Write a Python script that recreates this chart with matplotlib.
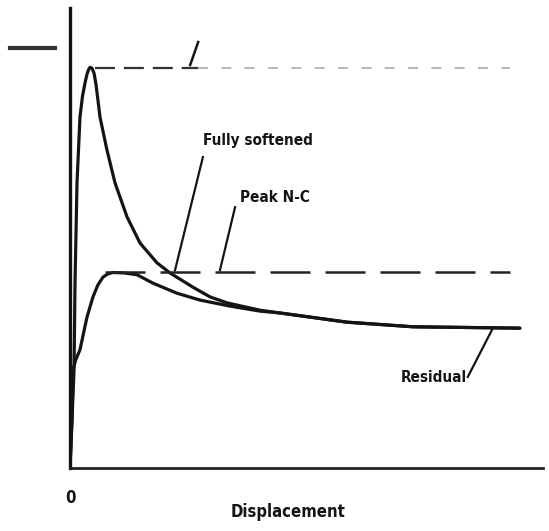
import matplotlib
matplotlib.use("Agg")
import matplotlib.pyplot as plt
from matplotlib.lines import Line2D

# ---- data (displacement units 0-100, load units 0-100) ----
peak_x = [0, 0.42, 0.85, 1.06, 1.48, 2.11, 2.64, 3.17, 3.59, 3.92, 4.23, 4.65,
          5.07, 5.5, 6.34, 7.82, 9.51, 12.05, 14.8, 18.39, 21.14, 26.0, 29.6,
          33.2, 40.2, 44.4, 58.6, 72.5, 95.1]
peak_y = [0, 10.4, 21.3, 40.2, 62.0, 76.3, 80.8, 83.7, 85.6, 86.6, 87.1, 86.9,
          85.9, 83.4, 76.3, 69.1, 62.0, 54.6, 48.9, 44.6, 42.4, 39.3, 37.2,
          35.9, 34.3, 33.7, 31.7, 30.7, 30.4]

nc_x = [0, 0.42, 0.63, 1.2, 2.11, 2.9, 3.59, 4.86, 5.9, 6.98, 8.0, 9.09, 11.5,
        14.2, 17.5, 22.6, 27.5, 33.8, 40.2, 44.4, 58.6, 72.5, 95.1]
nc_y = [0, 10.4, 21.3, 23.5, 25.7, 29.5, 32.8, 37.2, 39.8, 41.5, 42.2, 42.5, 42.4,
        42.0, 40.2, 38.0, 36.5, 35.2, 34.1, 33.7, 31.7, 30.7, 30.4]

peak_level = 87.0
peak_nc_level = 42.6
dash_start = 5.3
dash_end = 93.0

labels = {"fully": "Fully softened", "peaknc": "Peak N-C", "residual": "Residual"}
x_label = "Displacement"
origin_label = "0"

# ---- figure ----
W, H = 549, 531
fig = plt.figure(figsize=(W / 100, H / 100), dpi=100)
fig.patch.set_facecolor("white")
ax = fig.add_axes([70 / W, (H - 468) / H, (543 - 70) / W, (468 - 8) / H])
ax.set_xlim(0, 100)
ax.set_ylim(0, 100)
for s in ("top", "right"):
    ax.spines[s].set_visible(False)
ax.spines["left"].set_linewidth(2.4)
ax.spines["bottom"].set_linewidth(2.0)
ax.spines["left"].set_color("#111111")
ax.spines["bottom"].set_color("#222222")
ax.set_xticks([])
ax.set_yticks([])

ink = "#141414"
ax.plot(peak_x, peak_y, color=ink, lw=2.3, solid_capstyle="round",
        solid_joinstyle="round")
ax.plot(nc_x, nc_y, color=ink, lw=2.3, solid_capstyle="round",
        solid_joinstyle="round")

# dashed reference lines
ax.plot([dash_start, 27.0], [peak_level, peak_level], color="#333333", lw=1.6,
        dashes=(9, 4))
ax.plot([27.0, dash_end], [peak_level, peak_level], color="#aaaaaa", lw=1.2,
        dashes=(6, 8))
ax.plot([dash_start + 2, dash_end], [peak_nc_level, peak_nc_level], color="#222222",
        lw=1.8, dashes=(16, 6))

# labels and leader lines
fs = 11
ax.text(39.7, 71.3, labels["fully"], ha="center", va="center", fontsize=fs,
        fontweight="bold", color=ink, fontstretch="condensed")
ax.plot([28.1, 22.2], [67.6, 43.0], color=ink, lw=1.6)
ax.text(43.3, 58.7, labels["peaknc"], ha="center", va="center", fontsize=fs,
        fontweight="bold", color=ink, fontstretch="condensed")
ax.plot([34.9, 31.7], [56.7, 43.0], color=ink, lw=1.6)
ax.text(77.0, 19.6, labels["residual"], ha="center", va="center", fontsize=fs,
        fontweight="bold", color=ink, fontstretch="condensed")
ax.plot([84.1, 89.4], [19.8, 30.4], color=ink, lw=1.6)
ax.plot([25.4, 27.1], [87.6, 92.6], color=ink, lw=1.8)

# axis labels
ax.text(0, -6.5, origin_label, ha="center", va="center", fontsize=12,
        fontweight="bold", color=ink, clip_on=False, fontstretch="condensed")
ax.text(46.1, -9.5, x_label, ha="center", va="center", fontsize=12,
        fontweight="bold", color=ink, clip_on=False, fontstretch="condensed")

# illegible tick label blob at top-left
fig.add_artist(Line2D([10 / W, 55 / W], [(H - 48) / H, (H - 48) / H],
                      color="#333333", lw=3.0))

fig.savefig("out.png", dpi=100, facecolor="white")
